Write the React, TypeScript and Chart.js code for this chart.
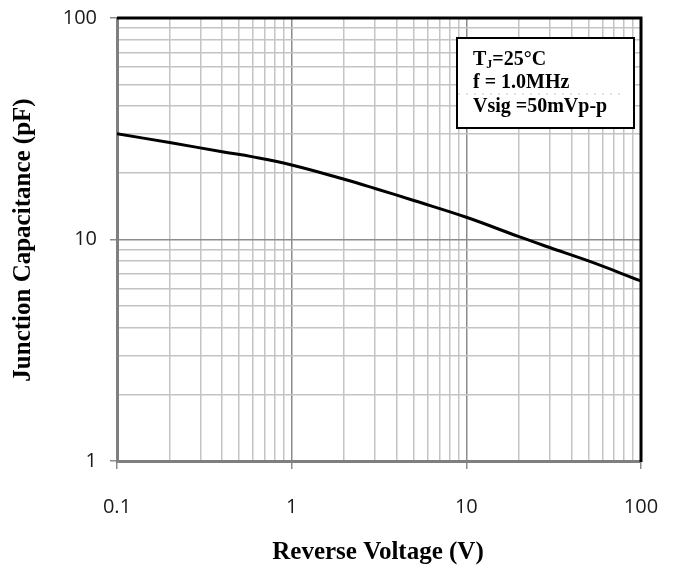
import React, { useEffect, useRef } from "react";
import { Chart, registerables } from "chart.js";

Chart.register(...registerables);

// ---- data ----
const VOLTAGE = [0.1, 0.2, 0.4, 0.6, 1, 2, 3, 5, 10, 20, 30, 50, 100];
const CAPACITANCE = [30.0, 27.4, 24.9, 23.6, 21.7, 18.7, 17.0, 15.0, 12.6, 10.3, 9.2, 8.0, 6.5];

const X_MAJOR = [0.1, 1, 10, 100];
const Y_MAJOR = [1, 10, 100];
const X_LABELS = ["0.1", "1", "10", "100"];
const Y_LABELS = ["1", "10", "100"];
const MINOR_STEPS = [2, 3, 4, 5, 6, 7, 8, 9];

const X_TITLE = "Reverse Voltage (V)";
const Y_TITLE = "Junction Capacitance (pF)";
const NOTE_T = "T";
const NOTE_SUB = "J";
const NOTE_T_REST = "=25°C";
const NOTE_LINE2 = "f = 1.0MHz";
const NOTE_LINE3 = "Vsig =50mVp-p";

const SERIF = "'Liberation Serif', 'Times New Roman', serif";
const SANS = "'Open Sans', 'Noto Sans', sans-serif";

function buildTicks(majors: number[]) {
  const out: { value: number; major: boolean }[] = [];
  majors.forEach((m, i) => {
    out.push({ value: m, major: true });
    if (i < majors.length - 1) {
      MINOR_STEPS.forEach((s) => out.push({ value: m * s, major: false }));
    }
  });
  return out;
}

function majorIndex(majors: number[], v: number) {
  return majors.findIndex((m) => Math.abs(m - v) / m < 1e-6);
}

const framePlugin = {
  id: "frameAndNotes",
  afterDatasetsDraw(chart: any) {
    const { ctx, chartArea } = chart;
    const { left, top, right, bottom } = chartArea;
    ctx.save();
    // black top and right frame
    ctx.strokeStyle = "#000";
    ctx.lineWidth = 3;
    ctx.beginPath();
    ctx.moveTo(left, top);
    ctx.lineTo(right, top);
    ctx.lineTo(right, bottom + 1);
    ctx.stroke();

    // annotation box
    const bx = right - 184;
    const by = top + 20;
    const bw = 177;
    const bh = 90;
    ctx.fillStyle = "#fff";
    ctx.fillRect(bx, by, bw, bh);
    ctx.strokeStyle = "#000";
    ctx.lineWidth = 2;
    ctx.strokeRect(bx, by, bw, bh);

    // faint dotted line
    ctx.strokeStyle = "#c8c8c8";
    ctx.lineWidth = 1;
    ctx.setLineDash([2, 6]);
    ctx.beginPath();
    ctx.moveTo(bx + 1, by + 56);
    ctx.lineTo(bx + bw - 8, by + 56);
    ctx.stroke();
    ctx.setLineDash([]);

    ctx.fillStyle = "#000";
    ctx.textBaseline = "alphabetic";
    ctx.textAlign = "left";
    const tx = bx + 16;
    ctx.font = `bold 20px ${SERIF}`;
    ctx.fillText(NOTE_T, tx, by + 27);
    const tw = ctx.measureText(NOTE_T).width;
    ctx.font = `bold 12px ${SERIF}`;
    ctx.fillText(NOTE_SUB, tx + tw, by + 30);
    const sw = ctx.measureText(NOTE_SUB).width;
    ctx.font = `bold 20px ${SERIF}`;
    ctx.fillText(NOTE_T_REST, tx + tw + sw, by + 27);
    ctx.fillText(NOTE_LINE2, tx, by + 50);
    ctx.fillText(NOTE_LINE3, tx, by + 74);

    // axis titles
    ctx.font = `bold 25px ${SERIF}`;
    ctx.textAlign = "center";
    ctx.textBaseline = "middle";
    ctx.fillText(X_TITLE, 378, 553);
    ctx.save();
    ctx.translate(24, 240);
    ctx.rotate(-Math.PI / 2);
    ctx.fillText(Y_TITLE, 0, 0);
    ctx.restore();

    ctx.restore();
  },
};

export default function App() {
  const ref = useRef<HTMLCanvasElement | null>(null);

  useEffect(() => {
    if (!ref.current) return;
    const points = VOLTAGE.map((v, i) => ({ x: v, y: CAPACITANCE[i] }));

    const gridColor = (majors: number[]) => (c: any) => {
      const v = c.tick ? c.tick.value : 0;
      return majorIndex(majors, v) >= 0 ? "#8c8c8c" : "#c4c4c4";
    };
    const tickColor = (majors: number[]) => (c: any) => {
      const v = c.tick ? c.tick.value : 0;
      return majorIndex(majors, v) >= 0 ? "#8c8c8c" : "rgba(0,0,0,0)";
    };
    const clearPadding = (scale: any) => {
      scale.paddingTop = 0;
      scale.paddingBottom = 0;
      scale.paddingLeft = 0;
      scale.paddingRight = 0;
    };

    const chart = new Chart(ref.current, {
      type: "line",
      data: {
        datasets: [
          {
            data: points,
            borderColor: "#000",
            borderWidth: 3,
            pointRadius: 0,
            fill: false,
            tension: 0.4,
          },
        ],
      },
      options: {
        animation: false,
        responsive: false,
        maintainAspectRatio: false,
        layout: { padding: { top: 18, right: 36, left: 0, bottom: 0 } },
        plugins: {
          legend: { display: false },
          tooltip: { enabled: false },
          title: { display: false },
        },
        scales: {
          x: {
            type: "logarithmic",
            position: "bottom",
            min: 0.1,
            max: 100,
            afterBuildTicks: (scale: any) => {
              scale.ticks = buildTicks(X_MAJOR);
            },
            afterFit: (scale: any) => {
              scale.height = 110;
              clearPadding(scale);
            },
            ticks: {
              autoSkip: false,
              maxRotation: 0,
              minRotation: 0,
              padding: 26,
              color: "#1a1a1a",
              font: { family: SANS, size: 20 },
              callback: (v: any) => {
                const i = majorIndex(X_MAJOR, Number(v));
                return i >= 0 ? X_LABELS[i] : "";
              },
            },
            grid: {
              color: gridColor(X_MAJOR),
              lineWidth: 1.5,
              tickColor: tickColor(X_MAJOR),
              tickLength: 8,
              tickWidth: 1.5,
            },
            border: { color: "#7f7f7f", width: 3 },
          },
          y: {
            type: "logarithmic",
            position: "left",
            min: 1,
            max: 100,
            afterBuildTicks: (scale: any) => {
              scale.ticks = buildTicks(Y_MAJOR);
            },
            afterFit: (scale: any) => {
              scale.width = 117;
              clearPadding(scale);
            },
            ticks: {
              autoSkip: false,
              padding: 13,
              color: "#1a1a1a",
              font: { family: SANS, size: 20 },
              callback: (v: any) => {
                const i = majorIndex(Y_MAJOR, Number(v));
                return i >= 0 ? Y_LABELS[i] : "";
              },
            },
            grid: {
              color: gridColor(Y_MAJOR),
              lineWidth: 1.5,
              tickColor: tickColor(Y_MAJOR),
              tickLength: 7,
              tickWidth: 1.5,
            },
            border: { color: "#7f7f7f", width: 3 },
          },
        },
      },
      plugins: [framePlugin],
    } as any);

    return () => chart.destroy();
  }, []);

  return (
    <div style={{ position: "fixed", left: 0, top: 0, width: 677, height: 571, background: "#fff" }}>
      <canvas ref={ref} width={677} height={571} style={{ display: "block", width: 677, height: 571 }} />
    </div>
  );
}
